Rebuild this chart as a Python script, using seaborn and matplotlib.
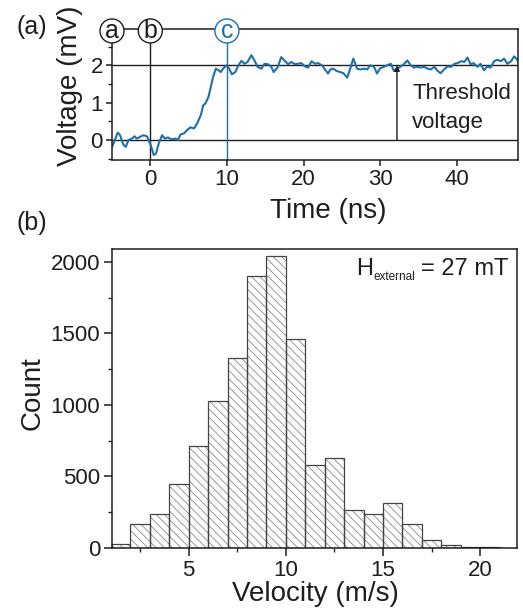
import numpy as np
import pandas as pd
import matplotlib
matplotlib.use("Agg")
import matplotlib.pyplot as plt
from matplotlib.ticker import MultipleLocator
import seaborn as sns

# ---------------- data ----------------
# panel (a): voltage trace
time_ns = [-5.1, -4.8, -4.25, -3.95, -3.5, -3.2, -2.85, -2.4, -2.06, -1.75, -1.3, -0.88,
           -0.44, -0.2, 0.13, 0.44, 0.75, 1.1, 1.54, 1.9, 2.3, 2.75, 3.3, 3.6, 3.95, 4.4,
           4.8, 5.26, 5.7, 6.1, 6.6, 6.9, 7.2, 7.6, 7.9, 8.2, 8.55, 8.9, 9.2, 9.5, 9.96,
           10.3, 10.65, 11.1, 11.5, 11.9, 12.3, 12.7, 13.2, 13.6, 14.0, 14.5, 14.9, 15.35,
           15.8, 16.1, 16.6, 17.1, 17.5, 18.0, 18.4, 18.9, 19.3, 19.7, 20.2, 20.6, 21.05,
           21.5, 21.9, 22.4, 22.8, 23.2, 23.5, 23.9, 24.3, 24.8, 25.2, 25.7, 26.1, 26.5,
           27.0, 27.4, 27.9, 28.3, 28.7, 29.2, 29.6, 30.0, 30.5, 30.9, 31.4, 31.8, 32.2,
           32.7, 33.1, 33.55, 34.0, 34.4, 34.9, 35.3, 35.75, 36.2, 36.6, 37.1, 37.5, 37.9,
           38.35, 38.8, 39.25, 39.7, 40.1, 40.6, 41.0, 41.4, 41.8, 42.2, 42.7, 43.1, 43.55,
           44.0, 44.4, 44.9, 45.3, 45.75, 46.2, 46.6, 47.1, 47.5, 47.9, 48.2]
voltage_mv = [-0.22, -0.09, 0.2, 0.13, -0.13, -0.18, 0.0, 0.04, 0.1, 0.04, 0.09, 0.13,
              0.1, 0.0, -0.18, -0.4, -0.36, -0.09, 0.13, 0.04, 0.07, 0.02, 0.04, 0.0, 0.15, 0.18,
              0.27, 0.34, 0.31, 0.44, 0.67, 0.93, 0.98, 1.16, 1.42, 1.69, 1.91, 1.87, 1.82, 1.91, 2.0,
              1.91, 1.76, 1.82, 2.0, 2.12, 2.04, 2.09, 2.27, 2.13, 1.96, 1.91, 2.04, 2.03,
              1.96, 1.82, 1.94, 2.22, 2.13, 2.03, 2.09, 2.03, 2.04, 2.06, 1.97, 1.94, 2.11,
              2.04, 2.06, 2.0, 1.89, 1.78, 1.89, 1.91, 1.85, 1.82, 1.79, 1.67, 1.91, 2.18,
              1.91, 1.89, 1.91, 1.89, 2.0, 1.96, 1.78, 1.92, 1.96, 2.0, 2.04, 1.85, 1.91,
              1.97, 2.03, 2.13, 2.0, 1.94, 1.96, 1.94, 1.96, 1.91, 1.89, 1.96, 1.85, 1.79,
              1.89, 1.97, 1.96, 2.04, 2.06, 2.11, 2.09, 2.21, 2.03, 2.06, 1.96, 2.04, 1.87,
              1.97, 1.94, 2.11, 2.15, 2.11, 2.18, 2.04, 2.11, 2.24, 2.15, 2.03]
marker_labels = ["a", "b", "c"]
marker_times = [-5, 0, 10]
threshold_mv = 2.0
arrow_time = 32.2

# panel (b): velocity histogram
bin_edges = list(range(1, 22))
counts = [30, 170, 240, 450, 710, 1030, 1330, 1900, 2040, 1460, 580, 627, 266, 238,
          312, 166, 56, 22, 8, 8]

# ---------------- style ----------------
sns.set_style("ticks")
plt.rcParams["font.family"] = ["Liberation Sans", "DejaVu Sans"]
plt.rcParams["hatch.linewidth"] = 0.6
plt.rcParams["axes.linewidth"] = 1.1
plt.rcParams["xtick.major.width"] = 1.1
plt.rcParams["ytick.major.width"] = 1.1
plt.rcParams["xtick.minor.width"] = 1.0
plt.rcParams["ytick.minor.width"] = 1.0

blue = "#1f70a6"
ink = "#1e1e1e"
W, H = 523, 612

fig = plt.figure(figsize=(5.23, 6.12), dpi=100)
ax1 = fig.add_axes([112 / W, 1 - 159.5 / H, 406 / W, 130.8 / H])
ax2 = fig.add_axes([112 / W, 1 - 548 / H, 405 / W, 299 / H])

# ---------------- panel (a) ----------------
df_a = pd.DataFrame({"t": time_ns, "v": voltage_mv})
sns.lineplot(data=df_a, x="t", y="v", ax=ax1, color=blue, lw=1.5, estimator=None, sort=False)
ax1.set_xlim(-5, 48)
ax1.set_ylim(-0.52, 2.98)
ax1.axhline(0, color=ink, lw=1.0, zorder=1)
ax1.axhline(threshold_mv, color=ink, lw=1.0, zorder=1)
ax1.axvline(marker_times[1], color=ink, lw=1.0, zorder=1)
ax1.axvline(marker_times[2], color=blue, lw=1.0, zorder=1)
ax1.annotate("", xy=(arrow_time, threshold_mv), xytext=(arrow_time, 0),
             arrowprops=dict(arrowstyle="-|>", color=ink, lw=1.0,
                             mutation_scale=8, shrinkA=0, shrinkB=0))
ax1.text(34.2, 1.09, "Threshold", fontsize=16, color=ink, ha="left", va="baseline")
ax1.text(34.2, 0.32, "voltage", fontsize=16, color=ink, ha="left", va="baseline")
for lab, tm in zip(marker_labels, marker_times):
    col = blue if lab == "c" else ink
    ax1.text(tm, 2.92, lab, fontsize=18, ha="center", va="center", color=col,
             bbox=dict(boxstyle="circle,pad=0.0", fc="white", ec=col, lw=1.0),
             clip_on=False, zorder=10)
ax1.set_xticks([0, 10, 20, 30, 40])
ax1.set_yticks([0, 1, 2])
ax1.yaxis.set_minor_locator(MultipleLocator(0.5))
ax1.tick_params(axis="both", which="major", labelsize=16, length=4.5, direction="out",
                colors=ink, pad=2)
ax1.tick_params(axis="y", which="minor", length=3, direction="out")
ax1.set_xlabel("")
ax1.set_ylabel("")
for s in ax1.spines.values():
    s.set_visible(True)
    s.set_color(ink)

# ---------------- panel (b) ----------------
centers = [(a + b) / 2 for a, b in zip(bin_edges[:-1], bin_edges[1:])]
df_b = pd.DataFrame({"v": centers, "n": counts})
sns.histplot(data=df_b, x="v", weights="n", bins=bin_edges, ax=ax2,
             color="white", edgecolor="#8a8a8a", linewidth=0, alpha=1)
for p in ax2.patches:
    p.set_hatch("\\\\\\\\")
    p.set_facecolor("white")
    p.set_edgecolor("#8a8a8a")
    p.set_linewidth(0)
sns.histplot(data=df_b, x="v", weights="n", bins=bin_edges, ax=ax2,
             fill=False, color="#444444", linewidth=0.9)
ax2.set_xlim(1.05, 21.9)
ax2.set_ylim(0, 2090)
ax2.set_xticks([5, 10, 15, 20])
ax2.set_yticks([0, 500, 1000, 1500, 2000])
ax2.xaxis.set_minor_locator(MultipleLocator(2.5))
ax2.yaxis.set_minor_locator(MultipleLocator(250))
ax2.tick_params(axis="both", which="major", labelsize=16, length=5.5, direction="out",
                colors=ink, pad=3)
ax2.tick_params(axis="both", which="minor", length=3, direction="out")
ax2.set_xlabel("")
ax2.set_ylabel("")
for s in ax2.spines.values():
    s.set_visible(True)
    s.set_color(ink)

# axis labels placed to match the reference
fig.text(70 / W, 1 - 86 / H, "Voltage (mV)", fontsize=20, rotation=90,
         ha="center", va="center", color=ink)
fig.text(328 / W, 1 - 218 / H, "Time (ns)", fontsize=20, ha="center", va="baseline", color=ink)
fig.text(315 / W, 1 - 601 / H, "Velocity (m/s)", fontsize=20, ha="center", va="baseline",
         color=ink)
fig.text(33 / W, 1 - 393 / H, "Count", fontsize=20, rotation=90, ha="center", va="center",
         color=ink)
fig.text(17 / W, 1 - 27 / H, "(a)", fontsize=18, ha="left", va="center", color=ink)
fig.text(16 / W, 1 - 223 / H, "(b)", fontsize=18, ha="left", va="center", color=ink)

# H_external annotation built from pieces
fig.canvas.draw()
renderer = fig.canvas.get_renderer()
t3 = fig.text(508 / W, 1 - 275 / H, "= 27 mT", fontsize=17, ha="right", va="baseline", color=ink)
bb3 = t3.get_window_extent(renderer)
t2 = fig.text((bb3.x0 - 5) / W, 1 - 280 / H, "external", fontsize=8.5, ha="right",
              va="baseline", color=ink)
bb2 = t2.get_window_extent(renderer)
fig.text((bb2.x0 - 0.5) / W, 1 - 275 / H, "H", fontsize=17, ha="right", va="baseline", color=ink)

fig.savefig("out.png", dpi=100, facecolor="white")
